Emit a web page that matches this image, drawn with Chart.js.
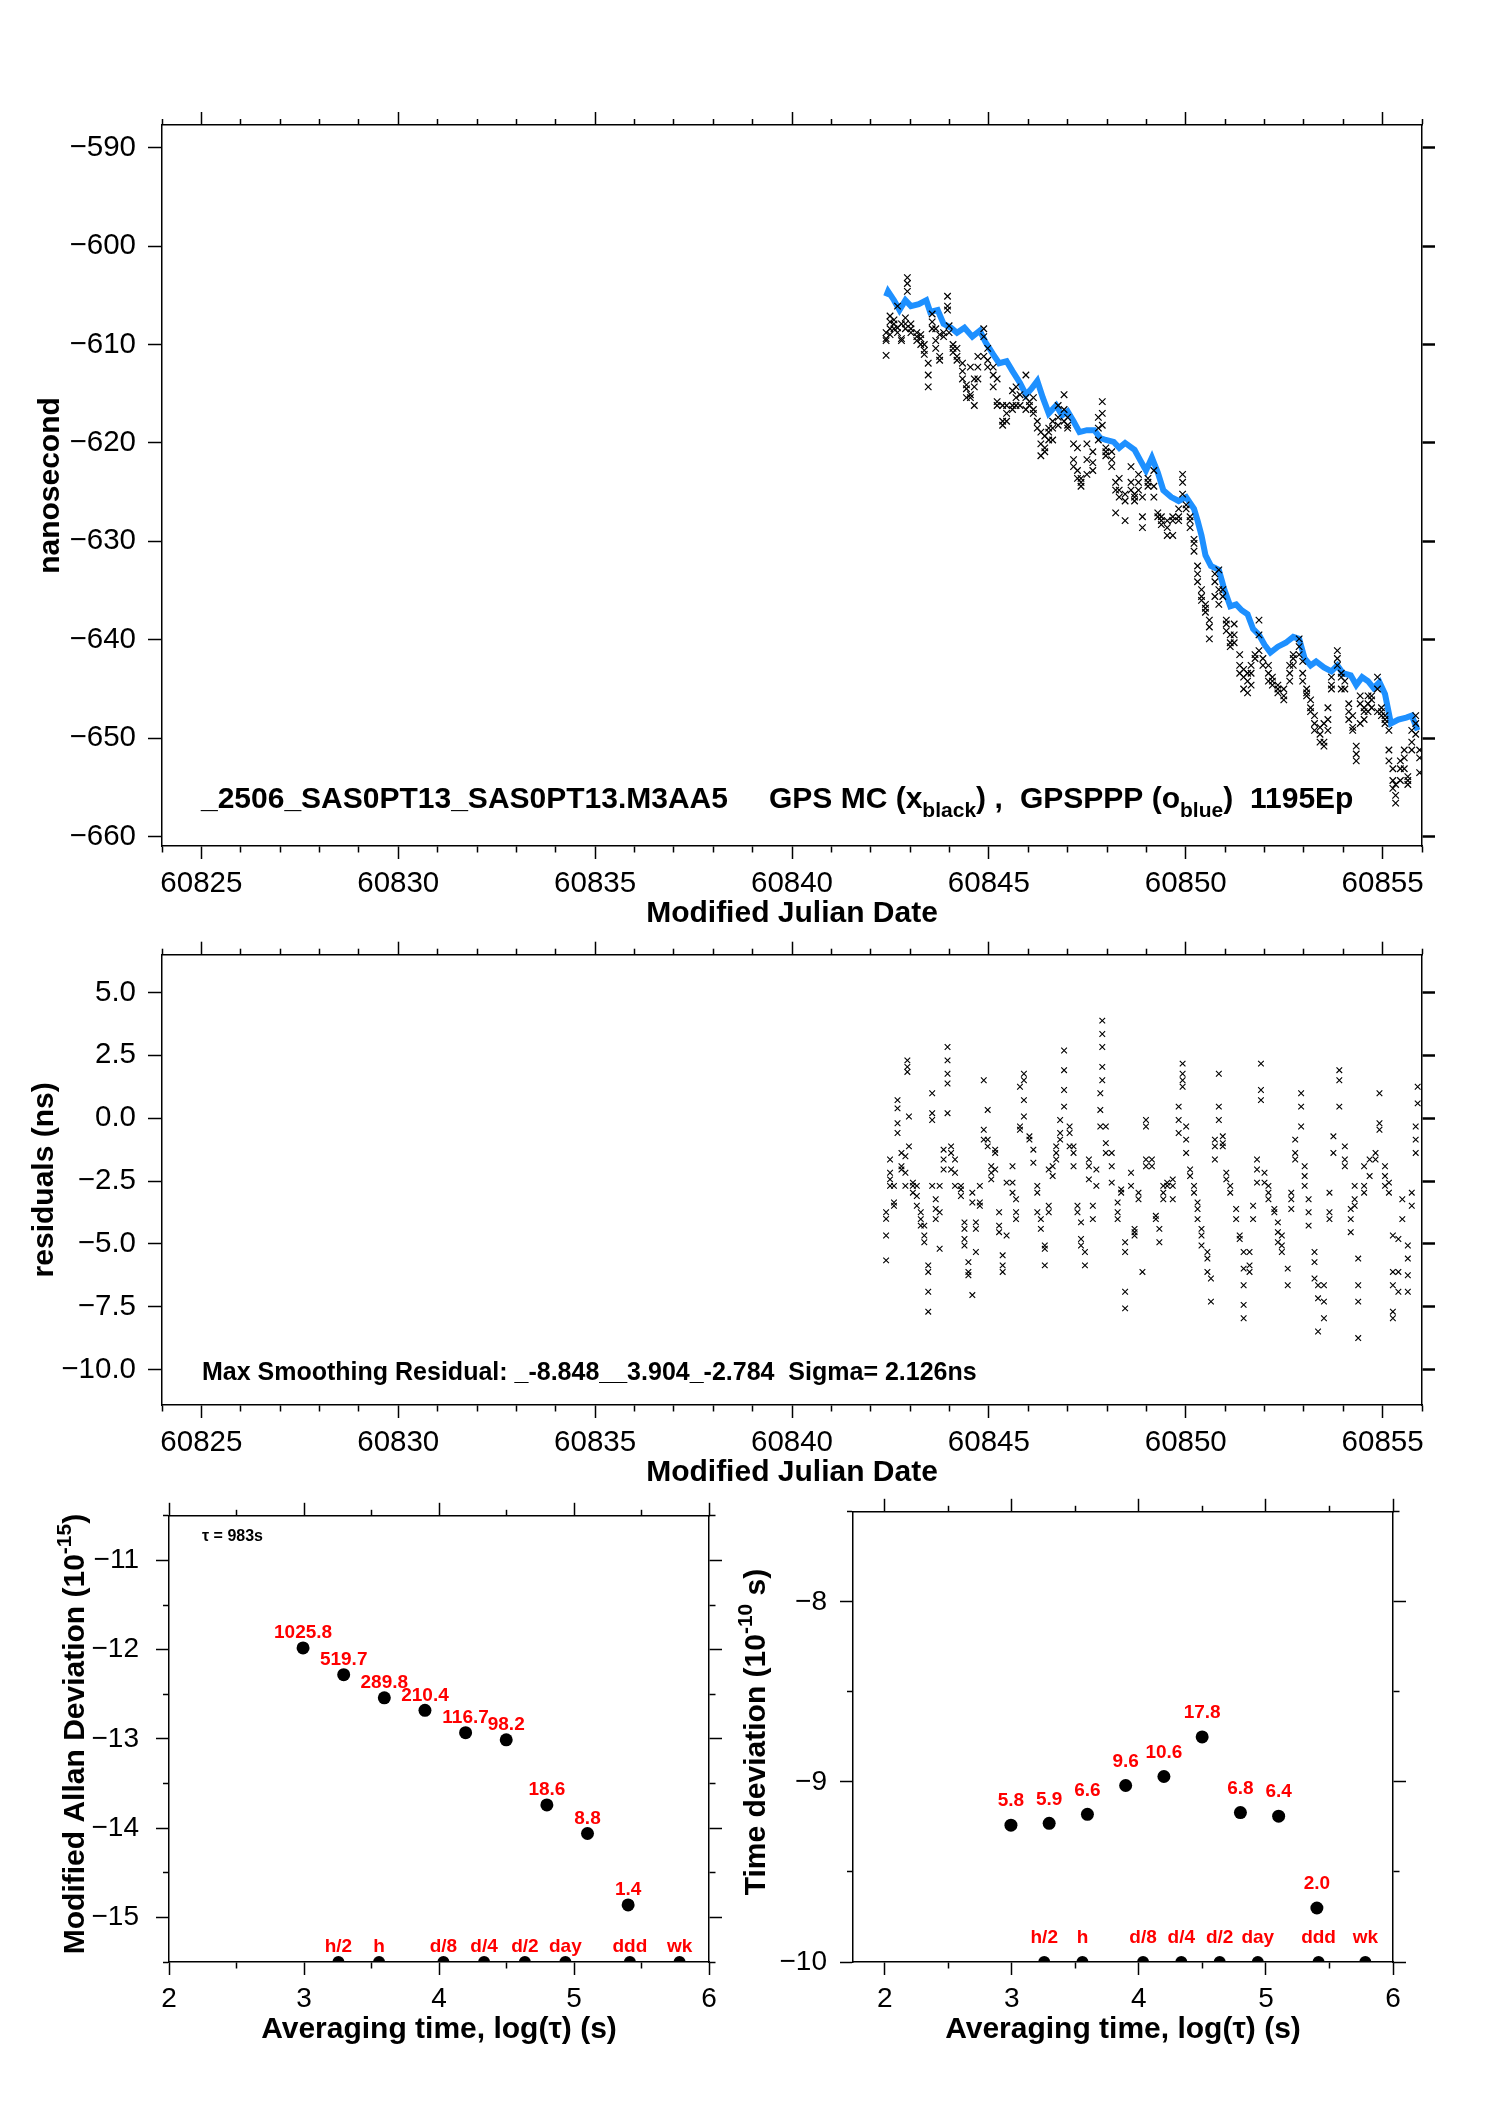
<!DOCTYPE html>
<html>
<head>
<meta charset="utf-8">
<script src="https://cdn.jsdelivr.net/npm/chart.js@4.4.1/dist/chart.umd.min.js"></script>
<style>
  html, body { margin: 0; padding: 0; background: #fff; }
  body { width: 1488px; height: 2105px; position: relative; overflow: hidden; }
  canvas { position: absolute; }
</style>
</head>
<body>
<canvas id="cPhase" width="1488" height="955" style="left:0;top:0"></canvas>
<canvas id="cResid" width="1488" height="589" style="left:0;top:925px"></canvas>
<canvas id="cAdev" width="760" height="589" style="left:0;top:1482px"></canvas>
<canvas id="cTdev" width="768" height="589" style="left:720px;top:1482px"></canvas>
<script>
// ---- GPS MC vs GPSPPP, residuals, MDEV / TDEV ----

const FONT = '"Liberation Sans", Arial, Helvetica, sans-serif';
const MINUS = '\u2212';

// axis ranges and ticks
const mjdMin = 60824, mjdMax = 60856;
const mjdLabelled = [60825, 60830, 60835, 60840, 60845, 60850, 60855];
const nsRange = [-660.95, -587.7];
const nsTicks = [-590, -600, -610, -620, -630, -640, -650, -660];
const residRange = [-11.4, 6.5];
const residTicks = [5, 2.5, 0, -2.5, -5, -7.5, -10];
const logTauTicks = [2, 2.5, 3, 3.5, 4, 4.5, 5, 5.5, 6];
const adevTicks = [-15.5, -15, -14.5, -14, -13.5, -13, -12.5, -12, -11.5, -11, -10.5];
const tdevTicks = [-10, -9.5, -9, -8.5, -8, -7.5];

// GPSPPP (blue) : MJD / ns
const pppDays = [60842.39, 60842.44, 60842.59, 60842.73, 60842.88, 60843.02, 60843.22, 60843.41, 60843.51, 60843.70,
  60843.85, 60844.04, 60844.19, 60844.38, 60844.58, 60844.77, 60844.92, 60845.11, 60845.26, 60845.45,
  60845.60, 60845.79, 60845.94, 60846.08, 60846.23, 60846.37, 60846.52, 60846.71, 60846.86, 60847.00,
  60847.15, 60847.30, 60847.49, 60847.68, 60847.83, 60847.97, 60848.17, 60848.31, 60848.46, 60848.70,
  60848.85, 60848.99, 60849.14, 60849.29, 60849.43, 60849.63, 60849.82, 60850.01, 60850.21, 60850.30,
  60850.40, 60850.50, 60850.64, 60850.84, 60850.98, 60851.13, 60851.28, 60851.42, 60851.57, 60851.71,
  60851.86, 60852.00, 60852.15, 60852.34, 60852.54, 60852.73, 60852.88, 60853.02, 60853.17, 60853.31,
  60853.51, 60853.70, 60853.85, 60853.99, 60854.19, 60854.33, 60854.48, 60854.63, 60854.77, 60854.92,
  60855.06, 60855.21, 60855.40, 60855.60, 60855.74, 60855.89];
const pppNs = [-605.1, -604.6, -605.5, -606.5, -605.5, -606.1, -605.9, -605.5, -606.7, -606.5,
  -607.9, -608.3, -608.8, -608.3, -609.2, -608.6, -609.8, -611.0, -611.9, -611.7,
  -612.7, -613.9, -615.1, -614.5, -613.7, -615.4, -617.0, -616.2, -617.2, -616.8,
  -617.8, -618.9, -618.7, -618.7, -619.5, -619.7, -619.9, -620.5, -620.0, -620.7,
  -621.8, -622.8, -621.5, -623.0, -624.8, -625.5, -625.9, -625.5, -626.7, -627.9,
  -629.4, -631.4, -632.5, -632.9, -634.9, -636.6, -636.4, -637.0, -637.4, -638.9,
  -639.5, -640.5, -641.3, -640.7, -640.3, -639.7, -639.9, -641.9, -642.6, -642.2,
  -642.8, -643.2, -642.6, -643.4, -643.6, -644.6, -643.8, -644.2, -644.9, -644.3,
  -645.5, -648.5, -648.1, -647.9, -647.7, -649.2];

// GPS MC (black x) : each row = MJD, then the ns values seen at that epoch
const mcRows = [
  [60842.39, -609.6, -608.8, -611.1, -609.4], [60842.49, -607.7, -608.4, -609.0, -607.1],
  [60842.59, -607.9, -607.5, -608.4], [60842.68, -608.3, -608.8, -606.1], [60842.78, -607.9, -609.4, -609.6],
  [60842.88, -607.3, -607.9, -608.4], [60842.93, -603.2, -603.8, -604.6], [60843.02, -608.4, -608.8, -607.9],
  [60843.17, -608.8, -609.2, -609.6], [60843.27, -609.0, -609.4, -610.0], [60843.36, -610.0, -610.6, -611.0],
  [60843.46, -611.9, -613.1, -614.3], [60843.56, -608.4, -607.7, -606.9], [60843.65, -608.4, -609.6, -610.4],
  [60843.75, -611.2, -611.6, -609.0], [60843.85, -608.8, -609.2], [60843.95, -605.1, -606.1, -606.5],
  [60843.99, -608.8, -608.1], [60844.09, -610.0, -610.4, -610.8], [60844.19, -610.4, -611.2, -611.6],
  [60844.33, -611.9, -612.7, -613.5], [60844.43, -614.1, -614.5, -615.4], [60844.53, -615.4, -615.1, -612.3],
  [60844.63, -616.2, -614.3, -613.5], [60844.72, -613.5, -612.3, -611.2], [60844.87, -608.4, -609.2, -611.2],
  [60844.97, -611.6, -612.3, -610.4], [60845.11, -613.1, -612.3, -614.3], [60845.21, -615.8, -616.2, -613.5],
  [60845.35, -616.2, -617.8, -618.2], [60845.45, -617.8, -616.2, -617.0], [60845.60, -616.2, -616.6, -614.7],
  [60845.69, -615.4, -614.3, -616.2], [60845.79, -615.1, -616.2], [60845.94, -613.1, -615.4, -616.6],
  [60846.03, -615.8, -616.2], [60846.13, -615.4, -616.6, -617.0], [60846.23, -617.8, -618.5],
  [60846.32, -618.9, -620.1, -621.3], [60846.42, -619.3, -620.5, -620.9], [60846.52, -618.9, -619.7, -618.5],
  [60846.62, -618.5, -619.7, -617.8], [60846.76, -617.4, -618.2, -616.2], [60846.91, -615.1, -616.6, -617.8],
  [60847.00, -618.2, -618.5, -617.4], [60847.15, -620.1, -621.7, -622.4], [60847.25, -620.5, -622.8, -623.6],
  [60847.34, -623.6, -624.4, -624.0], [60847.49, -623.2, -621.7, -620.1], [60847.64, -622.0, -622.8, -620.9],
  [60847.78, -618.5, -617.4, -619.7], [60847.88, -615.8, -617.0, -618.2], [60847.97, -620.5, -620.9, -621.3],
  [60848.12, -621.7, -622.4, -620.9], [60848.22, -624.0, -624.8, -627.1], [60848.31, -623.6, -624.8, -625.5],
  [60848.46, -625.2, -625.9, -627.9], [60848.61, -622.4, -624.0, -624.8], [60848.70, -625.2, -625.5, -625.9],
  [60848.80, -624.8, -624.0, -623.2], [60848.90, -625.5, -627.5, -628.6], [60849.04, -623.6, -624.4, -624.0],
  [60849.19, -622.8, -624.4, -625.5], [60849.29, -627.1, -627.5], [60849.38, -627.5, -627.9, -628.3],
  [60849.53, -627.9, -628.6, -629.4], [60849.67, -627.9, -627.5, -629.4], [60849.82, -627.9, -627.5, -626.7],
  [60849.92, -623.2, -624.0, -625.2], [60850.01, -626.3, -626.7], [60850.11, -627.9, -628.6, -627.5],
  [60850.21, -629.8, -630.2, -631.0], [60850.30, -632.5, -633.3, -634.1], [60850.40, -634.9, -635.6, -636.0],
  [60850.50, -636.4, -636.8, -637.2], [60850.60, -638.0, -638.7, -639.9], [60850.74, -633.3, -634.1, -635.6],
  [60850.84, -632.9, -634.9, -636.4], [60850.94, -634.9, -635.6], [60851.03, -638.0, -638.4, -639.1],
  [60851.13, -639.5, -640.3, -640.7], [60851.23, -638.4, -639.5, -640.3], [60851.37, -641.5, -642.6, -643.4],
  [60851.47, -643.0, -643.8, -645.0], [60851.57, -643.4, -644.2, -645.4], [60851.66, -642.6, -643.4, -644.6],
  [60851.76, -641.5, -641.9], [60851.86, -638.0, -639.5, -641.1], [60851.96, -641.9, -642.6],
  [60852.10, -642.6, -643.4, -644.2], [60852.20, -643.8, -644.2, -644.6], [60852.34, -644.6, -645.0, -645.4],
  [60852.49, -645.0, -645.7, -646.1], [60852.64, -644.2, -643.4, -642.6], [60852.73, -641.9, -642.6, -641.5],
  [60852.88, -639.9, -640.7, -641.5], [60852.97, -642.2, -643.4, -644.2], [60853.07, -645.0, -645.4, -645.7],
  [60853.17, -646.1, -646.9, -647.3], [60853.27, -647.7, -648.5, -649.2], [60853.41, -648.9, -649.6, -650.4],
  [60853.51, -650.4, -650.8, -648.5], [60853.61, -646.9, -648.1, -649.2], [60853.70, -645.0, -644.6, -643.8],
  [60853.85, -641.1, -641.9, -642.6], [60853.95, -643.4, -643.8, -645.0], [60854.04, -644.2, -645.0],
  [60854.14, -646.5, -647.3, -648.1], [60854.24, -647.7, -648.9, -649.2], [60854.33, -650.8, -651.6, -652.3],
  [60854.43, -648.5, -646.5, -645.7], [60854.53, -646.9, -647.3, -648.1], [60854.63, -645.7, -646.5, -647.3],
  [60854.72, -645.7, -646.1, -646.9], [60854.87, -643.8, -645.0, -647.3], [60854.97, -647.3, -647.7, -646.9],
  [60855.06, -647.7, -648.1, -648.5], [60855.16, -649.2, -651.2, -652.3], [60855.26, -653.1, -654.3, -655.1],
  [60855.33, -655.8, -656.6, -654.7], [60855.45, -652.3, -653.1, -654.3], [60855.55, -651.2, -652.0, -653.1],
  [60855.64, -653.9, -654.7, -654.3], [60855.74, -650.4, -651.2, -649.2], [60855.84, -648.5, -649.6, -647.7],
  [60855.94, -651.2, -652.0, -653.5]
];

// smoothing residuals (ns) : each row = MJD, then values
const resRows = [
  [60842.39, -5.65, -3.74, -4.0, -4.66], [60842.49, -1.64, -2.17, -2.69, -2.43], [60842.59, -2.69, -3.35, -3.48],
  [60842.68, 0.72, 0.39, -0.2, -0.59], [60842.78, -1.38, -1.91, -2.04], [60842.88, -1.51, -2.17, -2.69],
  [60842.93, 2.30, 2.04, 1.84], [60842.97, 0.07, -1.12], [60843.07, -2.56, -2.69, -2.96],
  [60843.17, -2.69, -3.09, -3.48], [60843.27, -3.74, -4.27, -4.01], [60843.36, -4.27, -4.66, -4.93],
  [60843.46, -5.85, -6.11, -6.90, -7.69], [60843.56, -2.69, 0.20, -0.07, 0.99], [60843.65, -4.01, -3.61, -3.22],
  [60843.75, -2.69, -3.74, -5.19], [60843.85, -1.25, -1.64, -2.04], [60843.95, 2.83, 2.30, 1.77, 1.38, 0.20],
  [60844.04, -1.38, -1.12, -2.04], [60844.14, -2.17, -2.69, -1.64], [60844.29, -2.83, -2.69, -3.09],
  [60844.38, -4.14, -4.40, -4.80, -5.06], [60844.48, -5.72, -6.11, -6.24], [60844.58, -2.96, -3.35, -7.03],
  [60844.67, -4.14, -4.40, -5.32], [60844.77, -3.35, -3.48, -2.69], [60844.87, 1.51, -0.85, -0.46],
  [60844.97, 0.33, -0.85, -1.12], [60845.06, -1.91, -2.17, -2.43], [60845.16, -1.25, -1.38, -2.04],
  [60845.26, -3.74, -4.27, -4.53], [60845.35, -5.45, -5.85, -6.11], [60845.45, -2.56, -4.66],
  [60845.60, -1.91, -2.56, -2.96], [60845.69, -3.22, -3.74, -4.01], [60845.79, -0.33, -0.46, 1.25],
  [60845.89, 1.77, 1.51, 0.72, 0.07], [60846.03, -0.72, -0.85], [60846.13, -1.25, -1.77],
  [60846.23, -2.69, -2.96, -3.74], [60846.32, -4.01, -4.40], [60846.42, -5.06, -5.19, -5.85],
  [60846.52, -3.48, -3.74, -2.04], [60846.62, -2.30, -1.91], [60846.71, -1.12, -1.38, -1.64],
  [60846.81, -0.07, -0.59, -0.85], [60846.91, 2.69, 1.91, 1.12, 0.46], [60847.05, -0.33, -0.59, -1.12],
  [60847.15, -1.12, -1.38, -1.91], [60847.25, -3.48, -3.74], [60847.34, -4.14, -4.80, -5.06],
  [60847.44, -5.85, -5.32], [60847.54, -1.64, -1.91, -2.43], [60847.64, -3.48, -4.01],
  [60847.73, -2.04, -2.69], [60847.83, 0.99, 0.33, -0.33], [60847.88, 3.88, 3.35, 2.83, 2.04, 1.51],
  [60847.97, -0.33, -0.99, -1.38], [60848.12, -1.38, -1.91, -2.56], [60848.27, -3.35, -3.74, -4.01],
  [60848.36, -2.83, -2.96], [60848.46, -4.93, -5.32, -6.90, -7.56], [60848.61, -2.17, -2.69],
  [60848.70, -4.40, -4.53, -4.66], [60848.80, -2.96, -3.22], [60848.90, -6.11],
  [60848.99, -0.07, -0.33, -1.64, -1.91], [60849.14, -1.64, -1.91], [60849.24, -3.88, -4.01],
  [60849.33, -4.40, -4.93], [60849.43, -2.69, -2.96, -3.22], [60849.53, -2.56, -2.69],
  [60849.67, -2.43, -2.69, -3.22], [60849.82, -0.59, -0.07, 0.46], [60849.92, 2.17, 1.77, 1.51, 1.25],
  [60850.01, -0.33, -0.85, -1.38], [60850.11, -2.04, -2.30], [60850.21, -2.69, -2.96],
  [60850.30, -3.35, -3.61, -4.01], [60850.40, -4.40, -4.66, -5.06], [60850.55, -5.32, -5.58, -6.11],
  [60850.64, -6.37, -7.29], [60850.74, -1.64, -1.12, -0.85], [60850.84, 1.77, 0.46, -0.07],
  [60850.94, -0.72, -0.99, -1.12], [60851.03, -2.17, -2.43], [60851.13, -2.69, -2.96],
  [60851.28, -3.61, -4.01], [60851.37, -4.66, -4.80], [60851.47, -5.32, -5.98, -6.64, -7.42, -7.95],
  [60851.62, -5.32, -5.85, -6.11], [60851.71, -4.01, -3.48], [60851.81, -1.64, -2.04, -2.56],
  [60851.91, 2.17, 1.12, 0.72], [60852.00, -2.17, -2.56], [60852.10, -2.69, -2.96, -3.22],
  [60852.25, -3.61, -3.74], [60852.34, -4.14, -4.53, -4.93], [60852.44, -4.66, -5.06, -5.32],
  [60852.59, -5.98, -6.64], [60852.68, -2.96, -3.22, -3.61], [60852.78, -0.85, -1.38, -1.64],
  [60852.93, 0.99, 0.46, -0.33], [60853.02, -1.91, -2.30, -2.69], [60853.12, -3.22, -3.74, -4.27],
  [60853.27, -5.32, -5.72, -6.37], [60853.36, -6.64, -7.16, -8.48], [60853.51, -6.64, -7.29, -7.95],
  [60853.65, -2.96, -3.74, -4.01], [60853.75, -0.72, -1.38], [60853.90, 1.91, 1.51, 0.46],
  [60854.04, -1.12, -1.64, -1.91], [60854.19, -3.61, -4.01, -4.53], [60854.29, -2.69, -3.22, -3.48],
  [60854.38, -5.58, -6.64, -7.29, -8.74], [60854.53, -1.91, -2.69, -2.96], [60854.67, -1.64, -2.30],
  [60854.82, -1.38, -1.64], [60854.92, 0.99, -0.20, -0.46], [60855.06, -1.91, -2.30, -2.69],
  [60855.16, -2.56, -2.96], [60855.26, -4.66, -6.11, -6.64, -7.69, -7.95], [60855.40, -4.80, -6.11, -6.90],
  [60855.50, -3.22, -4.01], [60855.64, -5.06, -5.58, -6.24, -6.90], [60855.74, -2.96, -3.48],
  [60855.84, -0.33, -0.85, -1.38], [60855.89, 1.25, 0.59]
];

// stability: log10(tau) and log10 of deviation, with the red counts
const logTau = [2.993, 3.294, 3.595, 3.896, 4.197, 4.498, 4.799, 5.100, 5.401];
const mdevLog = [-11.98, -12.28, -12.54, -12.68, -12.93, -13.01, -13.74, -14.06, -14.86];
const mdevCounts = ['1025.8', '519.7', '289.8', '210.4', '116.7', '98.2', '18.6', '8.8', '1.4'];
const tdevLog = [-9.24, -9.23, -9.18, -9.02, -8.97, -8.75, -9.17, -9.19, -9.70];
const tdevCounts = ['5.8', '5.9', '6.6', '9.6', '10.6', '17.8', '6.8', '6.4', '2.0'];
const spanTau = [3.255, 3.556, 4.033, 4.334, 4.636, 4.936, 5.414, 5.782];
const spanNames = ['h/2', 'h', 'd/8', 'd/4', 'd/2', 'day', 'ddd', 'wk'];

// ── helpers ─────────────────────────────────

function fmt(v, d) {
  const s = Math.abs(v).toFixed(d);
  return (v < 0 ? MINUS : '') + s;
}
function onStep(v, step) {
  return Math.abs(v / step - Math.round(v / step)) < 1e-6;
}
function rowsToPoints(rows) {
  const pts = [];
  rows.forEach(r => r.slice(1).forEach(v => pts.push({ x: r[0], y: v })));
  return pts;
}
const dayTicks = [];
for (let d = mjdMin; d <= mjdMax; d++) dayTicks.push(d);

// one side of the plot frame; minor ticks are drawn short with a dash pattern
function frameAxis(pos, o) {
  const horiz = pos === 'top' || pos === 'bottom';
  const outerFirst = pos === 'top' || pos === 'left';
  const L = o.len || 13;
  const m = o.minorLen || 6;
  return {
    type: 'linear',
    position: pos,
    min: o.min,
    max: o.max,
    afterBuildTicks: s => { s.ticks = o.ticks.map(v => ({ value: v })); },
    afterFit: s => { if (horiz) s.height = o.size; else s.width = o.size; },
    border: { display: true, color: '#000', width: 1.5 },
    grid: {
      drawOnChartArea: false,
      drawTicks: true,
      tickLength: L,
      tickColor: '#000',
      tickWidth: o.tickWidth || 1.5,
      tickBorderDash: c => (!c.tick || o.major(c.tick.value)) ? [] : (outerFirst ? [m, L - m] : [m, L + 10]),
      tickBorderDashOffset: c => (!c.tick || o.major(c.tick.value) || !outerFirst) ? 0 : m
    },
    ticks: {
      display: !!o.label,
      autoSkip: false,
      maxRotation: 0,
      minRotation: 0,
      padding: o.pad || 0,
      color: '#000',
      font: { family: FONT, size: o.fontSize || 29.5 },
      callback: v => (o.label && o.major(v)) ? o.label(v) : ''
    },
    title: o.title ? {
      display: true, text: o.title, color: '#000',
      font: { family: FONT, size: 30, weight: 'bold', lineHeight: 1.2 },
      padding: o.titlePad
    } : { display: false }
  };
}

// bold text with sub/superscripts
function drawRich(ctx, parts, x, y, size, rot, align) {
  const fontFor = k => 'bold ' + (k ? Math.round(size * 0.7) : size) + 'px ' + FONT;
  ctx.save();
  ctx.translate(x, y);
  if (rot) ctx.rotate(rot);
  ctx.fillStyle = '#000';
  ctx.textBaseline = 'alphabetic';
  ctx.textAlign = 'left';
  let total = 0;
  parts.forEach(([t, k]) => { ctx.font = fontFor(k); total += ctx.measureText(t).width; });
  let cx = align === 'center' ? -total / 2 : 0;
  parts.forEach(([t, k]) => {
    ctx.font = fontFor(k);
    const dy = k === 'sub' ? size * 0.3 : (k === 'sup' ? -size * 0.45 : 0);
    ctx.fillText(t, cx, dy);
    cx += ctx.measureText(t).width;
  });
  ctx.restore();
}

const pointText = {
  id: 'pointText',
  afterDatasetsDraw(chart) {
    const ctx = chart.ctx;
    chart.data.datasets.forEach((ds, i) => {
      if (!ds.pointText) return;
      const meta = chart.getDatasetMeta(i);
      ctx.save();
      ctx.fillStyle = '#ff0000';
      ctx.font = 'bold 19px ' + FONT;
      ctx.textAlign = 'center';
      ctx.textBaseline = 'middle';
      meta.data.forEach((el, j) => ctx.fillText(ds.pointText[j], el.x, el.y - ds.textLift));
      ctx.restore();
    });
  }
};

const common = {
  responsive: false,
  devicePixelRatio: 1,
  animation: false,
  events: [],
  layout: { padding: 0, autoPadding: false },
  plugins: { legend: { display: false }, tooltip: { enabled: false } }
};

const mjdLabel = v => mjdLabelled.includes(v) ? String(v) : '';

// ── TOP: phase ──────────────────────────────

new Chart(document.getElementById('cPhase'), {
  type: 'scatter',
  data: {
    datasets: [
      { data: rowsToPoints(mcRows), pointStyle: 'crossRot', pointRadius: 4.6, borderColor: '#000', backgroundColor: '#000', borderWidth: 1.2 },
      { data: pppDays.map((d, i) => ({ x: d, y: pppNs[i] })), showLine: true, borderColor: '#1e90ff', borderWidth: 6, pointRadius: 0, tension: 0 }
    ]
  },
  options: {
    ...common,
    scales: {
      x: frameAxis('bottom', { min: mjdMin, max: mjdMax, ticks: dayTicks, major: v => v % 5 === 0, label: mjdLabel, size: 109, pad: 7,
        title: 'Modified Julian Date', titlePad: { top: 0, bottom: 23 } }),
      x2: frameAxis('top', { min: mjdMin, max: mjdMax, ticks: dayTicks, major: v => v % 5 === 0, size: 125 }),
      y: frameAxis('left', { min: nsRange[0], max: nsRange[1], ticks: nsTicks, major: () => true, label: v => fmt(v, 0), size: 162, pad: 12, len: 14,
        title: 'nanosecond', titlePad: { top: 33, bottom: 0 } }),
      y2: frameAxis('right', { min: nsRange[0], max: nsRange[1], ticks: nsTicks, major: () => true, size: 66, tickWidth: 2.5 })
    }
  },
  plugins: [{
    id: 'phaseCaption',
    afterDraw(chart) {
      const ctx = chart.ctx;
      drawRich(ctx, [['_2506_SAS0PT13_SAS0PT13.M3AA5', 0]], 201, 808, 30);
      drawRich(ctx, [['GPS MC (x', 0], ['black', 'sub'], [') ,', 0]], 769, 808, 30);
      drawRich(ctx, [['GPSPPP (o', 0], ['blue', 'sub'], [')', 0]], 1020, 808, 30);
      drawRich(ctx, [['1195Ep', 0]], 1250, 808, 30);
    }
  }]
});

// ── MIDDLE: residuals ───────────────────────

new Chart(document.getElementById('cResid'), {
  type: 'scatter',
  data: {
    datasets: [
      { data: rowsToPoints(resRows), pointStyle: 'crossRot', pointRadius: 4, borderColor: '#000', backgroundColor: '#000', borderWidth: 1.1 }
    ]
  },
  options: {
    ...common,
    scales: {
      x: frameAxis('bottom', { min: mjdMin, max: mjdMax, ticks: dayTicks, major: v => v % 5 === 0, label: mjdLabel, size: 109, pad: 7,
        title: 'Modified Julian Date', titlePad: { top: 0, bottom: 23 } }),
      x2: frameAxis('top', { min: mjdMin, max: mjdMax, ticks: dayTicks, major: v => v % 5 === 0, size: 17 }),
      y: frameAxis('left', { min: residRange[0], max: residRange[1], ticks: residTicks, major: () => true, label: v => fmt(v, 1), size: 162, pad: 12, len: 14,
        title: 'residuals (ns)', titlePad: { top: 27, bottom: 0 } }),
      y2: frameAxis('right', { min: residRange[0], max: residRange[1], ticks: residTicks, major: () => true, size: 66, tickWidth: 2.5 })
    }
  },
  plugins: [{
    id: 'residCaption',
    afterDraw(chart) {
      drawRich(chart.ctx, [['Max Smoothing Residual: _-8.848__3.904_-2.784  Sigma= 2.126ns', 0]], 202, 455, 25);
    }
  }]
});

// ── BOTTOM LEFT: modified Allan deviation ───

new Chart(document.getElementById('cAdev'), {
  type: 'scatter',
  data: {
    datasets: [
      { data: logTau.map((t, i) => ({ x: t, y: mdevLog[i] })), pointRadius: 6.5, backgroundColor: '#000', borderColor: '#000', borderWidth: 0,
        pointText: mdevCounts, textLift: 15 },
      { data: spanTau.map(t => ({ x: t, y: adevTicks[0] })), pointRadius: 6, backgroundColor: '#000', borderColor: '#000', borderWidth: 0, clip: 0,
        pointText: spanNames, textLift: 15 }
    ]
  },
  options: {
    ...common,
    scales: {
      x: frameAxis('bottom', { min: 2, max: 6, ticks: logTauTicks, major: v => onStep(v, 1), label: v => String(v), size: 109, pad: 7, fontSize: 28,
        title: 'Averaging time, log(\u03c4) (s)', titlePad: { top: 0, bottom: 23 } }),
      x2: frameAxis('top', { min: 2, max: 6, ticks: logTauTicks, major: v => onStep(v, 1), size: 21 }),
      y: frameAxis('left', { min: -15.5, max: -10.5, ticks: adevTicks, major: v => onStep(v, 1), label: v => fmt(v, 0), size: 169, pad: 17, fontSize: 28 }),
      y2: frameAxis('right', { min: -15.5, max: -10.5, ticks: adevTicks, major: v => onStep(v, 1), size: 51 })
    }
  },
  plugins: [pointText, {
    id: 'adevCaption',
    afterDraw(chart) {
      const ctx = chart.ctx;
      drawRich(ctx, [['Modified Allan Deviation (10', 0], ['-15', 'sup'], [')', 0]], 84, 252, 30, -Math.PI / 2, 'center');
      drawRich(ctx, [['\u03c4 = 983s', 0]], 202, 59, 16);
    }
  }]
});

// ── BOTTOM RIGHT: time deviation ────────────

new Chart(document.getElementById('cTdev'), {
  type: 'scatter',
  data: {
    datasets: [
      { data: logTau.map((t, i) => ({ x: t, y: tdevLog[i] })), pointRadius: 6.5, backgroundColor: '#000', borderColor: '#000', borderWidth: 0,
        pointText: tdevCounts, textLift: 24 },
      { data: spanTau.map(t => ({ x: t, y: tdevTicks[0] })), pointRadius: 6, backgroundColor: '#000', borderColor: '#000', borderWidth: 0, clip: 0,
        pointText: spanNames, textLift: 24 }
    ]
  },
  options: {
    ...common,
    scales: {
      x: frameAxis('bottom', { min: 1.75, max: 6, ticks: logTauTicks, major: v => onStep(v, 1), label: v => String(v), size: 109, pad: 7, fontSize: 28,
        title: 'Averaging time, log(\u03c4) (s)', titlePad: { top: 0, bottom: 23 } }),
      x2: frameAxis('top', { min: 1.75, max: 6, ticks: logTauTicks, major: v => onStep(v, 1), size: 21 }),
      y: frameAxis('left', { min: -10, max: -7.5, ticks: tdevTicks, major: v => onStep(v, 1), label: v => fmt(v, 0), size: 133, pad: 13, fontSize: 28 }),
      y2: frameAxis('right', { min: -10, max: -7.5, ticks: tdevTicks, major: v => onStep(v, 1), size: 95 })
    }
  },
  plugins: [pointText, {
    id: 'tdevCaption',
    afterDraw(chart) {
      drawRich(chart.ctx, [['Time deviation (10', 0], ['-10', 'sup'], [' s)', 0]], 45, 250, 30, -Math.PI / 2, 'center');
    }
  }]
});
</script>
</body>
</html>
